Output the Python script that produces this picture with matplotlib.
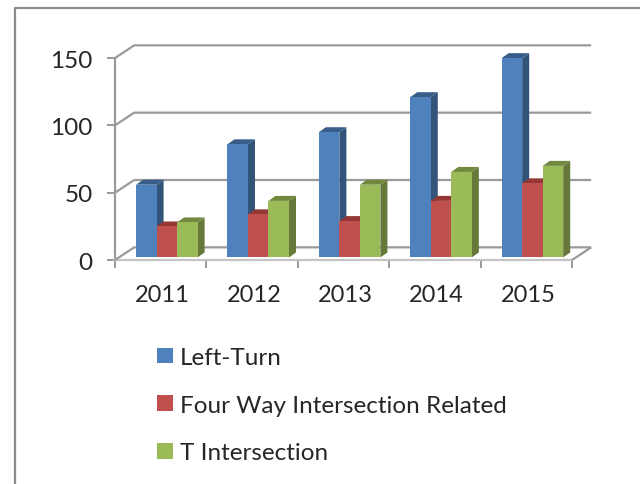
import matplotlib
matplotlib.use("Agg")
import matplotlib.pyplot as plt
from matplotlib.patches import Polygon, Patch
from matplotlib.lines import Line2D

years = ["2011", "2012", "2013", "2014", "2015"]
left_turn = [54, 84, 93, 119, 148]
four_way = [23, 32, 27, 42, 55]
t_inter = [26, 42, 54, 63.5, 68]
names = ["Left-Turn", "Four Way Intersection Related", "T Intersection"]

front = ["#4f81bd", "#c0504d", "#9bbb59"]
side = ["#335479", "#7f3230", "#66793a"]
top = ["#385d8a", "#953735", "#71893f"]
grid = "#9a9a9a"
txt = "#262626"

W, H = 640, 485
x0, x1, ytop, ybot = 115, 572, 59, 261

# depth of walls and bars, in data units (1 category = 91.4px, 1 unit = 1.347px)
wall_dx, wall_dy = 0.21, 9.4
bar_dx, bar_dy = 0.077, 3.7
bar_x, bar_y = 0.23, 1.9
bw = 0.2245

plt.rcParams["font.family"] = ["Lato", "DejaVu Sans"]
fig = plt.figure(figsize=(W / 100, H / 100), dpi=100)

# frame of the chart area
fig.add_artist(Line2D([15 / W, 15 / W, 1], [0, 1 - 9 / H, 1 - 9 / H], color="#8c8c8c", lw=1.6))

ax = fig.add_axes([x0 / W, 1 - ybot / H, (x1 - x0) / W, (ybot - ytop) / H])
ax.set_xlim(0, 5)
ax.set_ylim(0, 150)
for s in ["top", "right", "bottom", "left"]:
    ax.spines[s].set_visible(False)
ax.patch.set_visible(False)

ax.set_yticks([0, 50, 100, 150])
ax.set_xticks(range(6))
ax.set_xticklabels([])
ax.set_xticks([i + 0.52 for i in range(5)], years, minor=True)
ax.tick_params(axis="y", length=6, width=1.4, color=grid, labelsize=17.5, labelcolor=txt, pad=10)
ax.tick_params(axis="x", which="major", length=6, width=1.4, color=grid)
ax.tick_params(axis="x", which="minor", length=0, labelsize=17, labelcolor=txt, pad=17)

# walls and floor
line = dict(color=grid, lw=1.6, clip_on=False, solid_capstyle="butt")
ax.plot([0, 0], [0, 150], **line)
ax.plot([0, 5], [0, 0], color="#c4c4c4", lw=1.6, clip_on=False)
for v in [0, 50, 100, 150]:
    ax.plot([0, wall_dx, 5 + wall_dx], [v, v + wall_dy, v + wall_dy], **line)
ax.plot([5, 5 + wall_dx], [0, wall_dy], **line)

# bars, back to front
for i in range(5):
    for j, vals in enumerate([left_turn, four_way, t_inter]):
        l = i + bar_x + j * bw
        r = l + bw
        b = bar_y
        v = vals[i] + b
        ax.add_patch(Polygon([(r, b), (r + bar_dx, b + bar_dy), (r + bar_dx, v + bar_dy), (r, v)],
                             fc=side[j], ec="none", clip_on=False, zorder=3))
        ax.add_patch(Polygon([(l, v), (l + bar_dx, v + bar_dy), (r + bar_dx, v + bar_dy), (r, v)],
                             fc=top[j], ec="none", clip_on=False, zorder=3))
        ax.bar(l, vals[i], bw, bottom=b, align="edge", color=front[j], zorder=4, clip_on=False)

handles = [Patch(fc=c, ec="none") for c in front]
fig.legend(handles, names, loc="upper left", bbox_to_anchor=(157 / W, 1 - 348 / H),
           frameon=False, fontsize=17.5, labelcolor=txt, handlelength=0.66, handleheight=0.62,
           handletextpad=0.29, labelspacing=1.1, borderpad=0, borderaxespad=0)

fig.savefig("out.png", dpi=100)
